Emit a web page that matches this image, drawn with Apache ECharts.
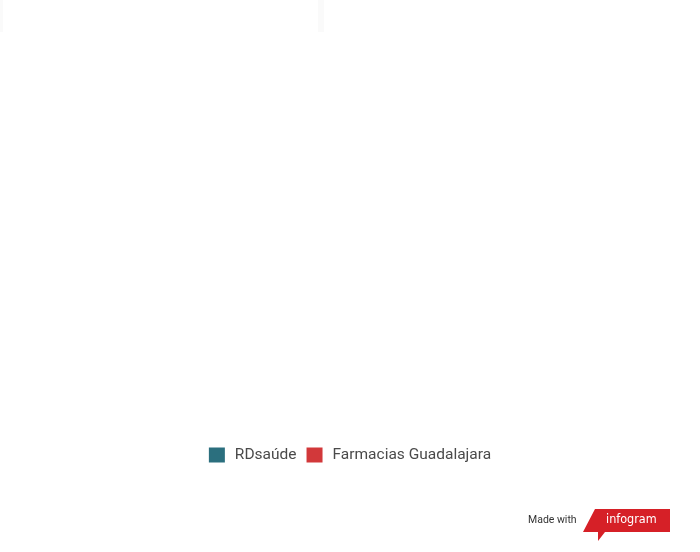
<!DOCTYPE html>
<html>
<head>
<meta charset="utf-8">
<script src="https://cdn.jsdelivr.net/npm/echarts@6/dist/echarts.min.js"></script>
<style>
  html, body { margin: 0; padding: 0; background: #fff; }
  #chart { width: 700px; height: 552px; }
</style>
</head>
<body>
<div id="chart"></div>
<script>
// series names shown in the legend; the plot area itself is empty in the source
const seriesNames = ['RDsaúde', 'Farmacias Guadalajara']
const seriesColors = ['#2b6f7e', '#d2383a']
const categories = []
const rdsaudeValues = []
const guadalajaraValues = []

const chart = echarts.init(document.getElementById('chart'))

chart.setOption({
    animation: false,
    backgroundColor: '#ffffff',
    grid: { left: 20, right: 20, top: 40, bottom: 130 },
    xAxis: { type: 'category', data: categories, show: false },
    yAxis: { type: 'value', show: false },
    legend: {
        data: seriesNames,
        left: 'center',
        top: 442,
        icon: 'rect',
        itemWidth: 16,
        itemHeight: 15,
        itemGap: 10,
        textStyle: {
            fontFamily: 'Roboto',
            fontSize: 15.5,
            color: '#4a4a4a',
            padding: [0, 0, 0, 5]
        }
    },
    series: [
        { name: seriesNames[0], type: 'bar', data: rdsaudeValues, itemStyle: { color: seriesColors[0] } },
        { name: seriesNames[1], type: 'bar', data: guadalajaraValues, itemStyle: { color: seriesColors[1] } }
    ],
    graphic: [
        // faint card edges at the top
        { type: 'rect', shape: { x: 0, y: 0, width: 3, height: 32 }, style: { fill: '#fafafa' }, silent: true },
        { type: 'rect', shape: { x: 318, y: 0, width: 6, height: 32 }, style: { fill: '#fafafa' }, silent: true },
        // "Made with infogram" badge
        {
            type: 'text', left: 528, top: 515,
            style: { text: 'Made with', font: '10.5px Roboto', fill: '#333333' }
        },
        {
            type: 'polygon',
            shape: { points: [[595, 509], [670, 509], [670, 532], [605, 532], [598, 541], [598, 532], [583, 532]] },
            style: { fill: '#d62027' }
        },
        {
            type: 'text', left: 606, top: 513,
            style: { text: 'infogram', font: '12.5px "DejaVu Sans Condensed", sans-serif', fill: '#ffffff' }
        }
    ]
})
</script>
</body>
</html>
